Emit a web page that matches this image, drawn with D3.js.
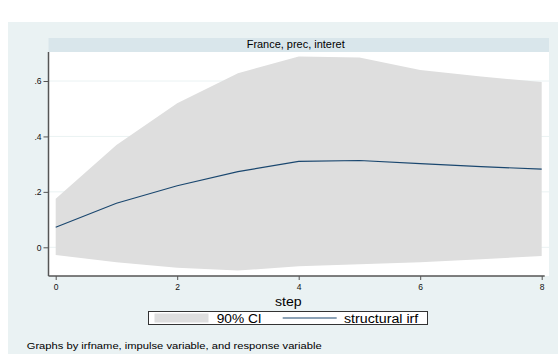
<!DOCTYPE html>
<html><head><meta charset="utf-8">
<script src="https://cdn.jsdelivr.net/npm/d3@7"></script>
<style>html,body{margin:0;padding:0;background:#fff;}svg{display:block;font-family:"Liberation Sans",Arial,sans-serif;}</style>
</head><body><svg id="c" width="559" height="354"></svg>
<script>
const steps = [0,1,2,3,4,5,6,7,8];
const irf   = [0.072,0.159,0.222,0.273,0.310,0.313,0.302,0.291,0.282];
const ciLow = [-0.028,-0.054,-0.074,-0.084,-0.068,-0.061,-0.054,-0.043,-0.031];
const ciHigh= [0.175,0.369,0.520,0.628,0.688,0.685,0.640,0.616,0.596];
const yTicks = [0,0.2,0.4,0.6];
const yTickLabels = ["0",".2",".4",".6"];
const xTicks = [0,2,4,6,8];
const panelTitle = "France, prec, interet";
const xTitle = "step";
const legendLabels = ["90% CI","structural irf"];
const note = "Graphs by irfname, impulse variable, and response variable";

const svg = d3.select("#c");
// outer background
svg.append("rect").attr("x",8).attr("y",22).attr("width",550).attr("height",332).attr("fill","#eaf2f3");
// plot region
const L=48.5, R=549, T=52, B=276;
svg.append("rect").attr("x",L).attr("y",38).attr("width",R-L).attr("height",14).attr("fill","#d9e6eb");
svg.append("text").attr("x",246.7).attr("y",48).attr("font-size",10.5).attr("fill","#000")
  .attr("textLength",98).attr("lengthAdjust","spacingAndGlyphs").text(panelTitle);
svg.append("rect").attr("x",L).attr("y",T).attr("width",R-L).attr("height",B-T).attr("fill","#fff");

const x = d3.scaleLinear().domain([0,8]).range([55.7,541.7]);
const y = d3.scaleLinear().domain([0,0.6]).range([247.3,81]);

// gridlines
svg.append("g").selectAll("line").data(yTicks).join("line")
  .attr("x1",L).attr("x2",R).attr("y1",d=>y(d)).attr("y2",d=>y(d))
  .attr("stroke","#eaf2f3").attr("stroke-width",1);

// CI area
const area = d3.area().x((d,i)=>x(steps[i])).y0((d,i)=>y(ciLow[i])).y1((d,i)=>y(ciHigh[i]));
svg.append("path").datum(steps).attr("d",area).attr("fill","#dedede");

// irf line
const line = d3.line().x((d,i)=>x(steps[i])).y((d,i)=>y(irf[i]));
svg.append("path").datum(steps).attr("d",line).attr("fill","none").attr("stroke","#1a476f").attr("stroke-width",1.1);

// y axis
const yAxis = d3.axisLeft(y).tickValues(yTicks).tickFormat((d,i)=>yTickLabels[i]).tickSize(5).tickPadding(2);
const gy = svg.append("g").attr("transform",`translate(${L},0)`).call(yAxis);
gy.select(".domain").attr("d",`M0,${T}V${B}`).attr("stroke","#555").attr("stroke-width",1.5);
gy.selectAll(".tick line").attr("stroke","#555");
gy.selectAll(".tick text").attr("font-size",8.5).attr("fill","#111").attr("font-family","'Liberation Sans',Arial,sans-serif");

// x axis
const xAxis = d3.axisBottom(x).tickValues(xTicks).tickFormat(d3.format("d")).tickSize(4).tickPadding(4);
const gx = svg.append("g").attr("transform",`translate(0,${B})`).call(xAxis);
gx.select(".domain").attr("d",`M${L},0H${x(8)+3}`).attr("stroke","#555").attr("stroke-width",1.5);
gx.selectAll(".tick line").attr("stroke","#555");
gx.selectAll(".tick text").attr("font-size",8.5).attr("fill","#111").attr("font-family","'Liberation Sans',Arial,sans-serif");

svg.append("text").attr("x",275).attr("y",306).attr("font-size",12).attr("fill","#000")
  .attr("textLength",26.7).attr("lengthAdjust","spacingAndGlyphs").text(xTitle);

// legend
svg.append("rect").attr("x",148.5).attr("y",311.5).attr("width",279).attr("height",13).attr("fill","#fff").attr("stroke","#333").attr("stroke-width",1);
svg.append("rect").attr("x",154.5).attr("y",313.5).attr("width",54).attr("height",9).attr("fill","#dedede");
svg.append("text").attr("x",216.7).attr("y",322.5).attr("font-size",12).attr("fill","#000")
  .attr("textLength",45).attr("lengthAdjust","spacingAndGlyphs").text(legendLabels[0]);
svg.append("line").attr("x1",282.7).attr("x2",336.7).attr("y1",318).attr("y2",318).attr("stroke","#1a476f").attr("stroke-width",1.1);
svg.append("text").attr("x",344).attr("y",322.5).attr("font-size",12).attr("fill","#000")
  .attr("textLength",74.3).attr("lengthAdjust","spacingAndGlyphs").text(legendLabels[1]);

svg.append("text").attr("x",26.7).attr("y",349).attr("font-size",9.5).attr("fill","#000")
  .attr("textLength",295).attr("lengthAdjust","spacingAndGlyphs").text(note);
</script></body></html>
